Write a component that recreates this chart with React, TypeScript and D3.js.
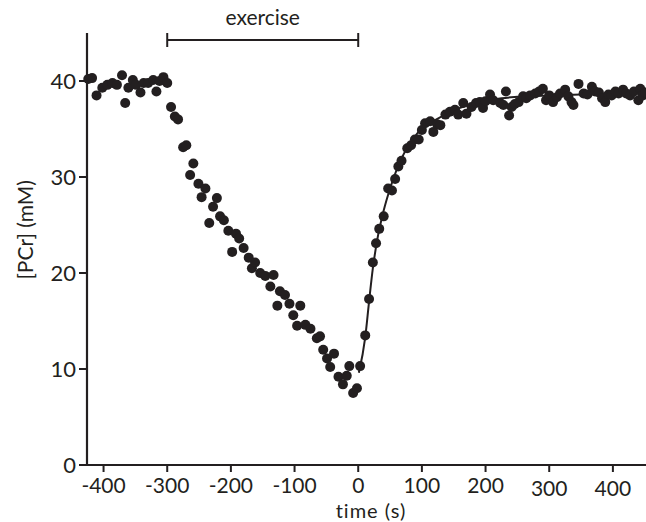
import React from "react";
import * as d3 from "d3";

// time (s) of each measurement
const times: number[] = [
  -424, -418, -411, -402, -394, -386, -379, -371, -366, -361, -354, -349, -342, -337, -330, -322, -317, -312, -306, -300,
  -294, -288, -283, -275, -270, -264, -259, -251, -246, -240, -234, -228, -222, -217, -211, -204, -198, -192, -187, -180,
  -172, -167, -162, -154, -146, -138, -133, -127, -123, -115, -108, -102, -96, -91, -83, -75, -65, -60, -55, -49,
  -44, -38, -31, -24, -18, -14, -8, -2,
  3, 11, 17, 23, 28, 33, 40, 47, 53, 58, 63, 68, 77, 83, 89, 95, 100, 105, 113, 118, 124,
  129, 137, 144, 152, 157, 165, 170, 178, 185, 191, 196, 200, 207, 212, 223, 228, 232, 237, 241, 246, 252, 259, 264,
  270, 278, 284, 290, 295, 300, 306, 312, 317, 325, 330, 335, 338, 346, 354, 360, 367, 372, 378, 383, 388, 393, 398,
  404, 409, 416, 421, 427, 433, 440, 443, 447, 451,
];

// [PCr] (mM) of each measurement
const pcr: number[] = [
  40.2, 40.3, 38.5, 39.3, 39.6, 39.8, 39.6, 40.6, 37.7, 39.3, 40.1, 39.6, 38.8, 39.8, 39.8, 40.1, 38.9, 40.0, 40.4, 39.8,
  37.3, 36.3, 36.0, 33.1, 33.3, 30.2, 31.4, 29.3, 27.9, 28.8, 25.2, 26.9, 27.8, 25.9, 25.5, 24.4, 22.2, 24.1, 23.6, 22.6,
  21.6, 20.5, 21.1, 20.0, 19.7, 18.6, 19.8, 16.6, 18.1, 17.7, 16.8, 15.6, 14.5, 16.6, 14.6, 14.2, 13.2, 13.4, 12.0, 11.1,
  10.2, 11.6, 9.2, 8.4, 9.3, 10.3, 7.5, 8.0,
  10.3, 13.5, 17.3, 21.1, 23.1, 24.6, 25.9, 28.8, 28.6, 29.8, 31.1, 31.7, 33.0, 33.3, 33.9, 33.9, 34.9, 35.6, 35.8, 34.7, 35.5,
  35.4, 36.5, 36.8, 37.0, 36.5, 37.7, 36.6, 37.3, 37.7, 37.8, 37.2, 37.9, 38.6, 38.0, 37.7, 37.5, 38.9, 36.4, 37.3, 37.6, 37.8, 38.4, 38.2,
  38.5, 38.7, 38.9, 39.2, 38.0, 38.5, 37.8, 38.3, 38.7, 39.1, 38.4, 37.8, 37.5, 39.7, 38.7, 38.6, 39.4, 38.9, 38.8, 38.2, 37.8, 38.6, 38.5,
  38.9, 38.7, 39.1, 38.7, 38.5, 38.9, 38.0, 39.2, 38.5, 38.8,
];

// fitted recovery curve
const fitTimes: number[] = [1, 11, 17, 23, 30, 40, 50, 60, 70, 80, 90, 100, 120, 140, 160, 180, 200, 225, 250, 300, 350, 400, 452];
const fitValues: number[] = [9.6, 13.3, 17.0, 20.5, 23.5, 26.5, 28.8, 30.7, 32.2, 33.4, 34.3, 35.1, 35.9, 36.6, 37.2, 37.6, 37.9, 38.2, 38.35, 38.5, 38.6, 38.65, 38.7];

const xTicks: number[] = [-400, -300, -200, -100, 0, 100, 200, 300, 400];
const yTicks: number[] = [0, 10, 20, 30, 40];
const exercise: [number, number] = [-300, 0];

const W = 646;
const H = 522;
const ink = "#231f20";
const font = "Lato, 'Open Sans', sans-serif";

export default function App() {
  const x = d3.scaleLinear().domain([-426, 452]).range([87, 646]);
  const y = d3.scaleLinear().domain([0, 45]).range([465, 33]);

  const fitLine = d3
    .line<number>()
    .x((_, i) => x(fitTimes[i]))
    .y((v) => y(v))
    .curve(d3.curveMonotoneX)(fitValues) as string;

  const x0 = x.range()[0];
  const yBase = y(0);
  const barY = 40;

  return (
    <svg
      width={W}
      height={H}
      style={{ position: "absolute", left: 0, top: 0, background: "#fff" }}
      fontFamily={font}
    >
      {/* fitted curve */}
      <path d={fitLine} fill="none" stroke={ink} strokeWidth={2} />
      {/* data points */}
      {times.map((t, i) => (
        <circle key={i} cx={x(t)} cy={y(pcr[i])} r={5} fill={ink} />
      ))}

      {/* y axis */}
      <line x1={x0} x2={x0} y1={y(45)} y2={yBase + 1} stroke={ink} strokeWidth={2.2} />
      {yTicks.map((v) => (
        <g key={v}>
          <line x1={x0 - 8} x2={x0} y1={y(v)} y2={y(v)} stroke={ink} strokeWidth={2} />
          <text x={x0 - 11} y={y(v)} dy="0.36em" textAnchor="end" fontSize={22} fill={ink}>
            {v}
          </text>
        </g>
      ))}

      {/* x axis */}
      <line x1={x0 - 1} x2={W} y1={yBase} y2={yBase} stroke={ink} strokeWidth={2.2} />
      {xTicks.map((t) => (
        <g key={t}>
          <line x1={x(t)} x2={x(t)} y1={yBase} y2={yBase + 7} stroke={ink} strokeWidth={2} />
          <text x={x(t)} y={t >= 300 ? 496 : 493} textAnchor="middle" fontSize={21} fill={ink}>
            {t}
          </text>
        </g>
      ))}

      {/* axis titles */}
      <text x={371} y={517.6} textAnchor="middle" fontSize={20} letterSpacing={1} fill={ink}>
        time (s)
      </text>
      <text
        transform={`translate(33, ${y(24.5)}) rotate(-90)`}
        textAnchor="middle"
        fontSize={21}
        fill={ink}
      >
        [PCr] (mM)
      </text>

      {/* exercise bar */}
      <line x1={x(exercise[0])} x2={x(exercise[1])} y1={barY} y2={barY} stroke={ink} strokeWidth={2} />
      <line x1={x(exercise[0])} x2={x(exercise[0])} y1={barY - 7} y2={barY + 7} stroke={ink} strokeWidth={2} />
      <line x1={x(exercise[1])} x2={x(exercise[1])} y1={barY - 7} y2={barY + 7} stroke={ink} strokeWidth={2} />
      <text x={(x(exercise[0]) + x(exercise[1])) / 2} y={25} textAnchor="middle" fontSize={21} fill={ink}>
        exercise
      </text>
    </svg>
  );
}
